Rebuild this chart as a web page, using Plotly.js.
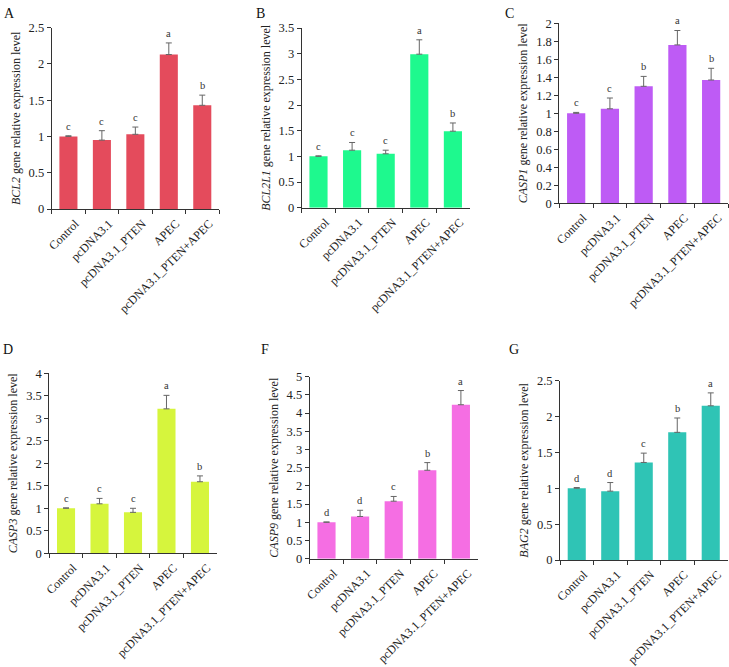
<!DOCTYPE html>
<html>
<head>
<meta charset="utf-8">
<script src="https://cdn.plot.ly/plotly-3.0.1.min.js"></script>
<style>html,body{margin:0;padding:0;background:#fff;}#chart{width:729px;height:667px;}</style>
</head>
<body>
<div id="chart"></div>
<script>
const categories = ["Control", "pcDNA3.1", "pcDNA3.1_PTEN", "APEC", "pcDNA3.1_PTEN+APEC"];

const bcl2Mean = [1.00, 0.95, 1.03, 2.13, 1.43];
const bcl2Err = [0.01, 0.13, 0.10, 0.16, 0.14];
const bcl2Letters = ["c", "c", "c", "a", "b"];

const bcl2l1Mean = [1.00, 1.12, 1.05, 2.99, 1.49];
const bcl2l1Err = [0.01, 0.15, 0.07, 0.28, 0.16];
const bcl2l1Letters = ["c", "c", "c", "a", "b"];

const casp1Mean = [1.00, 1.05, 1.30, 1.76, 1.37];
const casp1Err = [0.01, 0.12, 0.11, 0.16, 0.13];
const casp1Letters = ["c", "c", "b", "a", "b"];

const casp3Mean = [1.00, 1.10, 0.91, 3.21, 1.59];
const casp3Err = [0.01, 0.12, 0.09, 0.30, 0.13];
const casp3Letters = ["c", "c", "c", "a", "b"];

const casp9Mean = [1.00, 1.16, 1.58, 2.43, 4.23];
const casp9Err = [0.01, 0.17, 0.13, 0.21, 0.39];
const casp9Letters = ["d", "d", "c", "b", "a"];

const bag2Mean = [1.00, 0.96, 1.36, 1.78, 2.15];
const bag2Err = [0.01, 0.12, 0.13, 0.20, 0.18];
const bag2Letters = ["d", "d", "c", "b", "a"];

const W = 729, H = 667;
const panels = [
  {label: "A", gene: "BCL2", mean: bcl2Mean, err: bcl2Err, letters: bcl2Letters, color: "#E44B5C", ymax: 2.5, dtick: 0.5,
   box: [51.7, 219, 27.7, 209], lab: [2, 4]},
  {label: "B", gene: "BCL2L1", mean: bcl2l1Mean, err: bcl2l1Err, letters: bcl2l1Letters, color: "#1EF98E", ymax: 3.5, dtick: 0.5,
   box: [301.7, 469.7, 28, 207.7], lab: [254, 4]},
  {label: "C", gene: "CASP1", mean: casp1Mean, err: casp1Err, letters: casp1Letters, color: "#BE5BF5", ymax: 2, dtick: 0.2,
   box: [559.3, 728, 23.3, 203.3], lab: [503, 4]},
  {label: "D", gene: "CASP3", mean: casp3Mean, err: casp3Err, letters: casp3Letters, color: "#D6F53D", ymax: 4, dtick: 0.5,
   box: [49.3, 216.7, 373.3, 553.3], lab: [1, 340]},
  {label: "F", gene: "CASP9", mean: casp9Mean, err: casp9Err, letters: casp9Letters, color: "#F56EE3", ymax: 5, dtick: 0.5,
   box: [309.7, 477.7, 376.7, 558.7], lab: [259, 340]},
  {label: "G", gene: "BAG2", mean: bag2Mean, err: bag2Err, letters: bag2Letters, color: "#2FC4B5", ymax: 2.5, dtick: 0.5,
   box: [560, 727.5, 380.7, 560], lab: [507, 340]}
];

const font = "Liberation Serif, Times New Roman, serif";
const data = [];
const layout = {
  width: W, height: H,
  margin: {l: 0, r: 0, t: 0, b: 0},
  paper_bgcolor: "#fff", plot_bgcolor: "#fff",
  showlegend: false,
  bargap: 0.46,
  font: {family: font, size: 12, color: "#222"},
  annotations: []
};

panels.forEach((p, i) => {
  const n = i === 0 ? "" : String(i + 1);
  const xa = "xaxis" + n, ya = "yaxis" + n;
  const xr = "x" + n, yr = "y" + n;
  data.push({
    type: "bar", x: categories, y: p.mean, xaxis: xr, yaxis: yr,
    marker: {color: p.color, line: {width: 0}},
    error_y: {type: "data", symmetric: false, array: p.err, arrayminus: p.err.map(() => 0),
              color: "#666", thickness: 1, width: 3},
    hoverinfo: "x+y"
  });
  layout[xa] = {
    domain: [p.box[0] / W, p.box[1] / W], anchor: yr,
    type: "category", range: [-0.5, 4.5],
    showline: true, linecolor: "#333", linewidth: 1,
    ticks: "outside", ticklen: 4, tickcolor: "#333", tickson: "boundaries",
    tickangle: -45, ticklabelstandoff: 2, ticklabelshift: 7,
    tickfont: {family: font, size: 12, color: "#222"},
    showgrid: false, zeroline: false, fixedrange: true
  };
  layout[ya] = {
    domain: [1 - p.box[3] / H, 1 - p.box[2] / H], anchor: xr,
    range: [0, p.ymax], dtick: p.dtick, tick0: 0,
    showline: true, linecolor: "#333", linewidth: 1,
    ticks: "outside", ticklen: 4, tickcolor: "#333",
    tickfont: {family: font, size: 12.5, color: "#222"},
    showgrid: false, zeroline: false, fixedrange: true,
    title: {text: "<i>" + p.gene + "</i> gene relative expression level",
            font: {family: font, size: 12, color: "#222"}, standoff: 5}
  };
  p.letters.forEach((l, k) => {
    layout.annotations.push({
      xref: xr, yref: yr, x: categories[k], y: p.mean[k] + p.err[k],
      text: l, showarrow: false, yanchor: "bottom", yshift: 2,
      font: {family: font, size: 10.5, color: "#333"}
    });
  });
  layout.annotations.push({
    xref: "paper", yref: "paper", x: p.lab[0] / W, y: 1 - p.lab[1] / H,
    xanchor: "left", yanchor: "top", text: p.label, showarrow: false,
    font: {family: font, size: 14, color: "#111"}
  });
});

Plotly.newPlot("chart", data, layout, {staticPlot: true, displayModeBar: false});
</script>
</body>
</html>
